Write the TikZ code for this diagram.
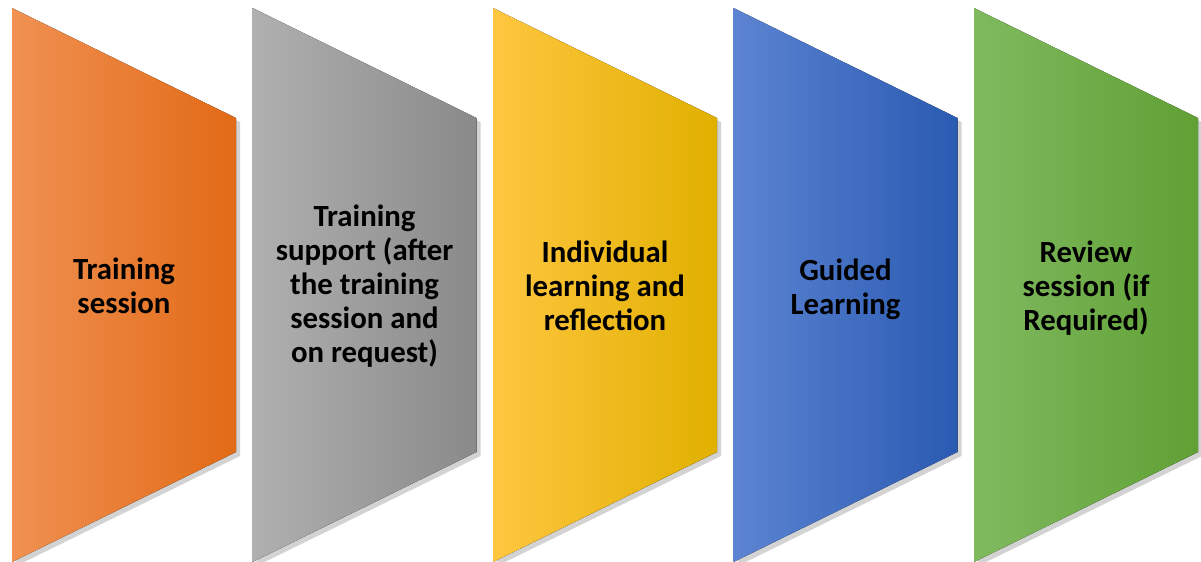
\documentclass[tikz,border=0pt]{standalone}
\usepackage{fontspec}
\setmainfont{Carlito}
\usetikzlibrary{shadows}

\definecolor{orangeL}{RGB}{240,145,82}
\definecolor{orangeM}{RGB}{243,122,38}
\definecolor{orangeR}{RGB}{226,106,22}
\definecolor{grayL}{RGB}{176,176,176}
\definecolor{grayM}{RGB}{165,165,165}
\definecolor{grayR}{RGB}{138,138,138}
\definecolor{yellowL}{RGB}{255,198,64}
\definecolor{yellowM}{RGB}{255,192,0}
\definecolor{yellowR}{RGB}{224,176,0}
\definecolor{blueL}{RGB}{92,132,210}
\definecolor{blueM}{RGB}{66,112,200}
\definecolor{blueR}{RGB}{42,90,178}
\definecolor{greenL}{RGB}{128,186,96}
\definecolor{greenM}{RGB}{112,173,71}
\definecolor{greenR}{RGB}{96,160,52}

\tikzset{
  panel/.style={drop shadow={shadow xshift=2pt,shadow yshift=-2pt,opacity=0.35}},
  stage/.style={font=\fontsize{15.4}{17}\selectfont\bfseries,align=center,text=black}
}

\begin{document}
\begin{tikzpicture}[x=0.5pt,y=-0.5pt]

\useasboundingbox (0,0) rectangle (1201,562);

% first panel
\fill [panel,left color=orangeL,middle color=orangeM,right color=orangeR]
  (12,8) -- (236,118) -- (236,452) -- (12,562) -- cycle;
\node [stage] (training) at (124,286) {Training\\session};

% second panel
\fill [panel,left color=grayL,middle color=grayM,right color=grayR]
  (252.5,8) -- (476.5,118) -- (476.5,452) -- (252.5,562) -- cycle;
\node [stage] (support) at (364.5,286) {Training\\support (after\\the training\\session and\\on request)};

% third panel
\fill [panel,left color=yellowL,middle color=yellowM,right color=yellowR]
  (493,8) -- (717,118) -- (717,452) -- (493,562) -- cycle;
\node [stage] (individual) at (605,286) {Individual\\learning and\\reflection};

% fourth panel
\fill [panel,left color=blueL,middle color=blueM,right color=blueR]
  (733.5,8) -- (957.5,118) -- (957.5,452) -- (733.5,562) -- cycle;
\node [stage] (guided) at (845.5,289) {Guided\\Learning};

% last panel
\fill [panel,left color=greenL,middle color=greenM,right color=greenR]
  (974,8) -- (1198,118) -- (1198,452) -- (974,562) -- cycle;
\node [stage] (review) at (1086,288) {Review\\session (if\\Required)};

\end{tikzpicture}
\end{document}
